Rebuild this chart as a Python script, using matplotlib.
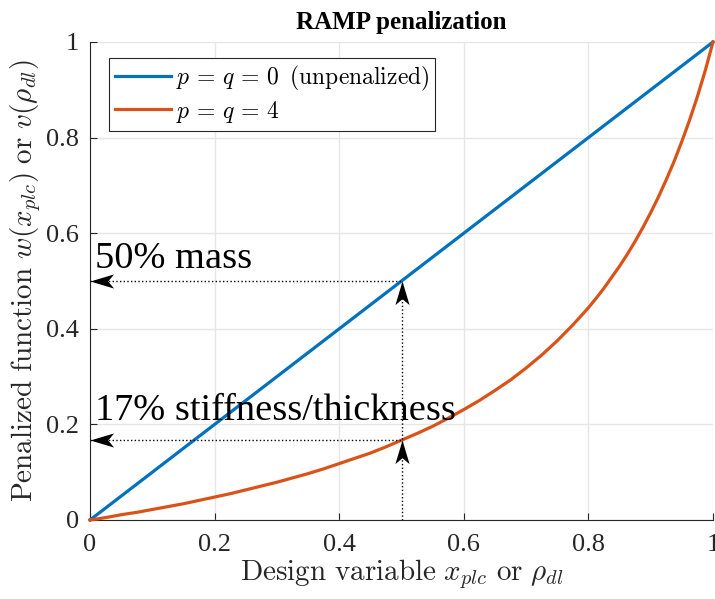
import numpy as np
import matplotlib.pyplot as plt
from matplotlib.path import Path

plt.rcParams['font.family'] = ['Liberation Serif', 'DejaVu Serif']
plt.rcParams['mathtext.fontset'] = 'cm'

# datos
x_lin = [0.0, 1.0]
y_lin = [0.0, 1.0]

x_ramp = [0.0, 0.025, 0.05, 0.075, 0.1, 0.125, 0.15, 0.175, 0.2, 0.225,
          0.25, 0.275, 0.3, 0.325, 0.35, 0.375, 0.4, 0.425, 0.45, 0.475,
          0.5, 0.525, 0.55, 0.575, 0.6, 0.625, 0.65, 0.675, 0.7, 0.725,
          0.75, 0.775, 0.8, 0.8125, 0.825, 0.8375, 0.85, 0.8625, 0.875,
          0.8875, 0.9, 0.9125, 0.925, 0.9375, 0.95, 0.9625, 0.975, 0.9875, 1.0]
y_ramp = [0.0, 0.005, 0.011, 0.016, 0.022, 0.028, 0.034, 0.041, 0.048, 0.055,
          0.063, 0.071, 0.079, 0.088, 0.097, 0.107, 0.118, 0.129, 0.140, 0.153,
          0.167, 0.181, 0.196, 0.213, 0.231, 0.250, 0.271, 0.293, 0.318, 0.345,
          0.375, 0.408, 0.444, 0.464, 0.485, 0.508, 0.531, 0.556, 0.583,
          0.612, 0.643, 0.676, 0.712, 0.750, 0.792, 0.837, 0.886, 0.940, 1.0]

x_design = 0.5
y_mass = 0.5
y_stiff = 0.167
labels = ['$p\\, =\\, q\\, =\\, 0\\;\\;\\mathrm{(unpenalized)}$', '$p\\, =\\, q\\, =\\, 4$']

azul = '#0072BD'
naranja = '#D95319'
gris = '#262626'

fig = plt.figure(figsize=(7.15, 5.99), dpi=100)
ax = fig.add_axes([0.1259, 0.1319, 0.8713, 0.7980])

ax.plot(x_lin, y_lin, color=azul, lw=2.3, label=labels[0], clip_on=False, zorder=3)
ax.plot(x_ramp, y_ramp, color=naranja, lw=2.3, label=labels[1], clip_on=False, zorder=3,
        solid_joinstyle='round')

# lineas punteadas
ax.plot([0, x_design], [y_mass, y_mass], ':', color='k', lw=1, zorder=4)
ax.plot([0, x_design], [y_stiff, y_stiff], ':', color='k', lw=1, zorder=4)
ax.plot([x_design, x_design], [0, y_mass], ':', color='k', lw=1, zorder=4)

# puntas de flecha
izq = Path([(0, 0), (1, 0.3), (0.75, 0), (1, -0.3), (0, 0)],
           [Path.MOVETO, Path.LINETO, Path.LINETO, Path.LINETO, Path.CLOSEPOLY])
arr = Path([(0, 0), (0.3, -1), (0, -0.75), (-0.3, -1), (0, 0)],
           [Path.MOVETO, Path.LINETO, Path.LINETO, Path.LINETO, Path.CLOSEPOLY])
for yy in [y_mass, y_stiff]:
    ax.plot([0], [yy], marker=izq, ms=34, color='k', mew=0, clip_on=False, zorder=5)
    ax.plot([x_design], [yy], marker=arr, ms=34, color='k', mew=0, clip_on=False, zorder=5)

ax.text(0.008, 0.527, '50% mass', fontsize=27.6, color='k')
ax.text(0.008, 0.209, '17% stiffness/thickness', fontsize=27.6, color='k')

ax.set_xlim(0, 1)
ax.set_ylim(0, 1)
ax.set_xticks(np.arange(0, 1.01, 0.2))
ax.set_yticks(np.arange(0, 1.01, 0.2))
ax.set_xticklabels(['0', '0.2', '0.4', '0.6', '0.8', '1'])
ax.set_yticklabels(['0', '0.2', '0.4', '0.6', '0.8', '1'])
ax.tick_params(direction='in', length=5, width=0.8, labelsize=19, colors=gris)
ax.tick_params(axis='x', pad=10)
ax.tick_params(axis='y', pad=8)
ax.grid(True, color='#E6E6E6', lw=1)
ax.set_axisbelow(True)
for s in ['top', 'right']:
    ax.spines[s].set_visible(False)
for s in ['left', 'bottom']:
    ax.spines[s].set_color(gris)
    ax.spines[s].set_linewidth(0.8)

ax.set_xlabel('$\\mathrm{Design\\ variable}\\ x_{plc}\\ \\mathrm{or}\\ \\rho_{dl}$',
              fontsize=21, color=gris, labelpad=1)
ax.set_ylabel('$\\mathrm{Penalized\\ function}\\ w(x_{plc})\\ \\mathrm{or}\\ v(\\rho_{dl})$',
              fontsize=21, color=gris, labelpad=2)
ax.set_title('RAMP penalization', fontsize=18, fontweight='bold', pad=9)

leg = ax.legend(loc='upper left', bbox_to_anchor=(0.03, 0.967), fontsize=17,
                fancybox=False, edgecolor=gris, framealpha=1, handlelength=2.4,
                borderaxespad=0, handletextpad=0.2, labelspacing=0.25, borderpad=0.25)
leg.get_frame().set_linewidth(0.8)

plt.savefig('out.png', dpi=100)
